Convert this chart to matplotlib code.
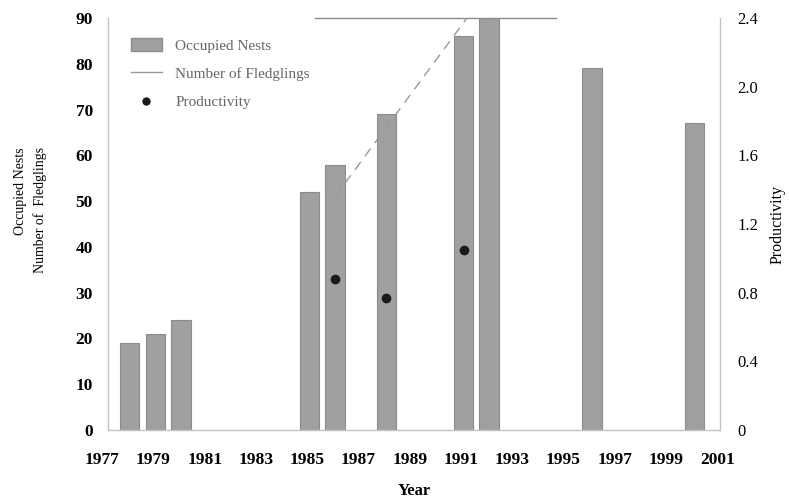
import numpy as np
import matplotlib.pyplot as plt
from matplotlib.lines import Line2D
from matplotlib.patches import Patch

# occupied nests per survey year
nest_years = [1978, 1979, 1980, 1985, 1986, 1988, 1991, 1992, 1996, 2000]
nests = [19, 21, 24, 52, 58, 69, 86, 90, 79, 67]

# fledglings counted (line runs off the top of the axis after 1991)
fledg_years = [1986, 1991, 1992]
fledglings = [51, 89, 97]

# productivity = fledglings per occupied nest
prod_years = [1986, 1988, 1991]
productivity = [0.88, 0.77, 1.05]

year_labels = [str(y) for y in range(1977, 2002, 2)]

plt.rcParams['font.family'] = ['Liberation Serif', 'DejaVu Serif']

fig = plt.figure(figsize=(7.89, 5.04), dpi=100)
ax = fig.add_axes([0.137, 0.147, 0.776, 0.817])
ax2 = ax.twinx()

bar_col = '#a0a0a0'
ax.bar(nest_years, nests, width=0.76, color=bar_col, edgecolor='#8c8c8c', lw=0.8, zorder=2)
ax.plot(fledg_years, fledglings, color='#9a9a9a', lw=1.0, ls=(0, (7, 5)), zorder=3)
ax2.plot(prod_years, productivity, 'o', color='#1a1a1a', ms=6, zorder=4)

ax.set_xlim(1977.16, 2001.0)
ax.set_ylim(0, 90)
ax2.set_ylim(0, 2.4)

ax.set_yticks(np.arange(0, 91, 10))
ax.set_yticklabels([str(v) for v in range(0, 91, 10)], fontsize=12.5, fontweight='bold')
ax2.set_yticks([0, 0.4, 0.8, 1.2, 1.6, 2.0, 2.4])
ax2.set_yticklabels(['0', '0.4', '0.8', '1.2', '1.6', '2.0', '2.4'], fontsize=12)
ax.tick_params(axis='y', length=0, pad=11)
ax2.tick_params(axis='y', length=0, pad=12)

# year labels sit a little left of the bar positions
ax.set_xticks([])
label_pos = np.linspace(1976.93, 2000.88, len(year_labels))
for xp, lab in zip(label_pos, year_labels):
    ax.text(xp, -0.073, lab, transform=ax.get_xaxis_transform(), ha='center', va='center',
            fontsize=12.5, fontweight='bold', clip_on=False)

ax.set_xlabel('Year', fontsize=12, fontweight='bold', labelpad=38)
ax.set_ylabel('Occupied Nests\nNumber of  Fledglings', fontsize=10, linespacing=1.6,
              multialignment='right')
ax.yaxis.set_label_coords(-0.1, 0.534)
ax2.set_ylabel('Productivity', fontsize=11.5, labelpad=8)

for a in (ax, ax2):
    for s in a.spines.values():
        s.set_color('#c4c4c4')
        s.set_linewidth(1.0)
ax.spines['top'].set_bounds(1985.2, 1994.6)
ax.spines['top'].set_color('#8a8a8a')
ax2.spines['top'].set_visible(False)
ax2.spines['left'].set_visible(False)
ax2.spines['bottom'].set_visible(False)
ax.spines['right'].set_visible(False)

handles = [Patch(facecolor=bar_col, edgecolor='#8c8c8c'),
           Line2D([], [], color='#9a9a9a', lw=1.0),
           Line2D([], [], marker='o', ls='none', color='#1a1a1a', ms=5)]
ax.legend(handles, ['Occupied Nests', 'Number of Fledglings', 'Productivity'],
          loc='upper left', bbox_to_anchor=(0.015, 0.985), frameon=False, fontsize=11,
          labelcolor='#666666', handlelength=2.0, handleheight=0.9, handletextpad=0.9,
          labelspacing=0.9)

fig.savefig('out.png', dpi=100)
